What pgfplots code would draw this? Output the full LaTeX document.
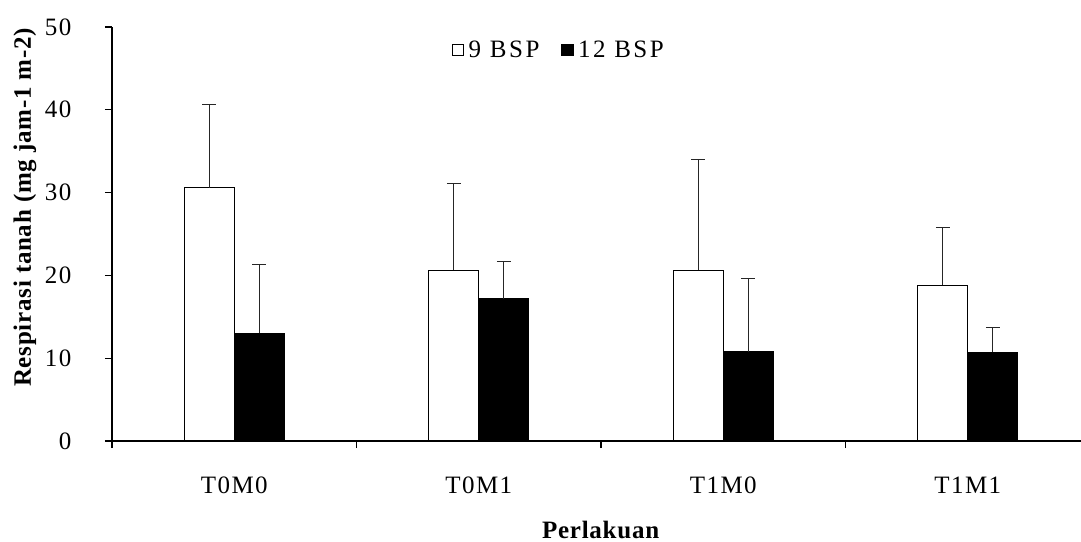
\documentclass[border=0pt]{standalone}
\usepackage{fontspec}
\setmainfont{Liberation Serif}
\newfontfamily\tickfont[LetterSpace=6]{Liberation Serif}
\newfontfamily\legfont[LetterSpace=10]{Liberation Serif}
\newfontfamily\labfont[LetterSpace=3]{Liberation Serif}
\usepackage{pgfplots}
\pgfplotsset{compat=1.18}
\begin{document}
\begin{tikzpicture}
\useasboundingbox (-112bp,-101bp) rectangle (969bp,441bp);
\begin{axis}[
  at={(0,0)}, anchor=south west,
  scale only axis, width=978bp, height=414bp,
  xmin=-0.5, xmax=3.5, ymin=0, ymax=50,
  axis x line*=bottom, axis y line*=left,
  axis line style={line width=1.3bp},
  tick align=outside, major tick length=7bp,
  tick style={line width=1.2bp, black},
  ytick={0,10,20,30,40,50},
  xtick={-0.5,0.5,1.5,2.5,3.5}, xticklabels={},
  extra x ticks={0,1,2,3},
  extra x tick labels={T0M0,T0M1,T1M0,T1M1},
  extra x tick style={major tick length=0pt},
  /pgf/number format/assume math mode=true,
  every tick label/.append style={font=\tickfont\fontsize{25bp}{28bp}\selectfont},
  every x tick label/.append style={anchor=base, yshift=-52bp},
  every y tick label/.append style={anchor=east, xshift=-30bp},
  ybar=0pt, bar width=50bp,
  xlabel={\textbf{Perlakuan}},
  ylabel={\textbf{Respirasi tanah (mg jam-1 m-2)}},
  label style={font=\labfont\fontsize{25bp}{28bp}\selectfont},
  xlabel style={at={(axis description cs:0.5,-0.236)}, anchor=base},
  ylabel style={at={(axis description cs:-0.089,0.565)}, anchor=center},
  legend style={draw=none, at={(rel axis cs:0.3476,0.9444)}, anchor=west,
    font=\legfont\fontsize{25bp}{28bp}\selectfont, inner sep=0pt,
    /tikz/every even column/.append style={column sep=20bp}},
  legend columns=2,
  legend image code/.code={\draw[#1, line width=1.2bp] (0bp,-5.5bp) rectangle (11bp,5.5bp);\path[draw=none,fill=none] (14bp,0bp);},
  error bars/y dir=plus, error bars/y explicit,
  error bars/error bar style={line width=1.3bp, black!85},
  error bars/error mark options={rotate=90, mark size=7bp, line width=1.3bp, black!85},
]
\addplot[draw=black, fill=white, line width=1.3bp] coordinates {
  (0,30.6) +- (0,10.0)
  (1,20.6) +- (0,10.5)
  (2,20.6) +- (0,13.4)
  (3,18.8) +- (0,7.0)
};
\addplot[draw=black, fill=black, line width=1.3bp] coordinates {
  (0,13.0) +- (0,8.3)
  (1,17.15) +- (0,4.5)
  (2,10.8) +- (0,8.8)
  (3,10.7) +- (0,3.0)
};
\legend{9 BSP, 12 BSP}
\end{axis}
\end{tikzpicture}
\end{document}
